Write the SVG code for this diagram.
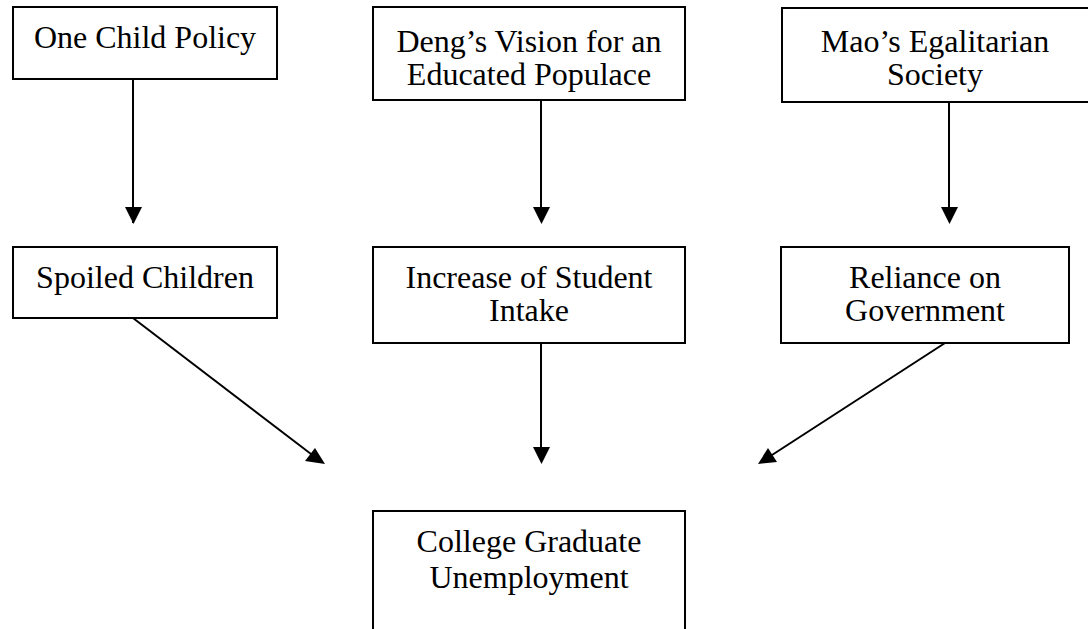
<svg xmlns="http://www.w3.org/2000/svg" width="1088" height="629" viewBox="0 0 1088 629">
<style>
.box{fill:#fff;stroke:#000;stroke-width:2}
.t{font-family:"Liberation Serif","Times New Roman",serif;font-size:32px;fill:#000;text-anchor:middle}
.c{stroke:#000;stroke-width:2;fill:none;marker-end:url(#ah)}
</style>
<defs>
<marker id="ah" viewBox="0 0 10 10" refX="10" refY="5" markerWidth="8" markerHeight="8" markerUnits="userSpaceOnUse" orient="auto">
<path d="M0,0 L10,5 L0,10 z" fill="#000"/>
</marker>
</defs>
<rect width="1088" height="629" fill="#fff"/>
<g id="connectors">
<line class="c" x1="133" y1="79" x2="133" y2="223" style="marker-end:none"/>
<path d="M125,207 L142,207 L133.5,224 z" fill="#000"/>
<line x1="541" y1="100" x2="541" y2="208" stroke="#000" stroke-width="2"/>
<path d="M533,207 L550,207 L541.5,224 z" fill="#000"/>
<line x1="949" y1="102" x2="949" y2="208" stroke="#000" stroke-width="2"/>
<path d="M941,207 L958,207 L949.5,224 z" fill="#000"/>
<line x1="541" y1="343" x2="541" y2="448" stroke="#000" stroke-width="2"/>
<path d="M533,447 L550,447 L541.5,464 z" fill="#000"/>
<line x1="133" y1="318" x2="311" y2="454" stroke="#000" stroke-width="2"/>
<path d="M325,464 L305,461 L315,448 z" fill="#000"/>
<line x1="945" y1="343" x2="772" y2="455" stroke="#000" stroke-width="2"/>
<path d="M758,464 L768,448 L777,462 z" fill="#000"/>
</g>
<g id="n1"><rect class="box" x="13" y="7" width="264" height="72"/><text class="t" x="145" y="48">One Child Policy</text></g>
<g id="n2"><rect class="box" x="373" y="7" width="312" height="93"/><text class="t" x="529" y="52">Deng’s Vision for an</text><text class="t" x="529" y="85">Educated Populace</text></g>
<g id="n3"><rect class="box" x="782" y="8" width="320" height="94"/><text class="t" x="935" y="52">Mao’s Egalitarian</text><text class="t" x="935" y="85">Society</text></g>
<g id="n4"><rect class="box" x="13" y="247" width="264" height="71"/><text class="t" x="145" y="288">Spoiled Children</text></g>
<g id="n5"><rect class="box" x="373" y="247" width="312" height="96"/><text class="t" x="529" y="288">Increase of Student</text><text class="t" x="529" y="321">Intake</text></g>
<g id="n6"><rect class="box" x="781" y="247" width="288" height="96"/><text class="t" x="925" y="288">Reliance on</text><text class="t" x="925" y="321">Government</text></g>
<g id="n7"><rect class="box" x="373" y="511" width="312" height="140"/><text class="t" x="529" y="552">College Graduate</text><text class="t" x="529" y="588">Unemployment</text></g>
</svg>
